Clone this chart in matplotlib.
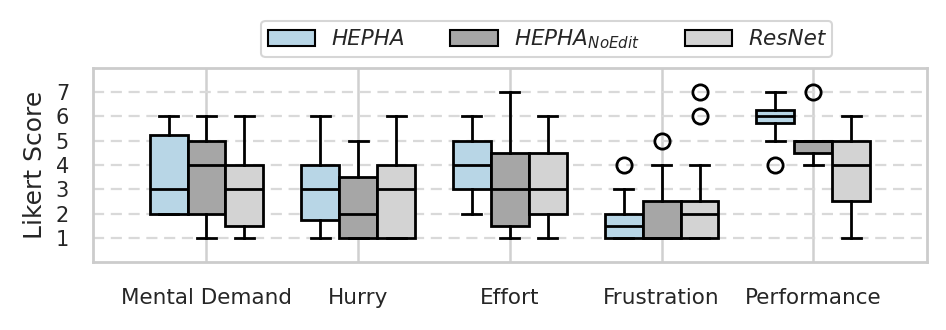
import matplotlib
matplotlib.use("Agg")
import matplotlib.pyplot as plt
from matplotlib.patches import Patch

categories = ["Mental Demand", "Hurry", "Effort", "Frustration", "Performance"]
series = ["HEPHA", "HEPHA_NoEdit", "ResNet"]
legend_labels = [r"HEPHA", r"HEPHA$_{NoEdit}$", r"ResNet"]
colors = ["#b8d6e6", "#a6a6a6", "#d3d3d3"]

# per series: [whislo, q1, med, q3, whishi] for each category
hepha = [[2, 2, 3, 5.25, 6], [1, 1.75, 3, 4, 6], [2, 3, 4, 5, 6], [1, 1, 1.5, 2, 3], [5, 5.75, 6, 6.25, 7]]
noedit = [[1, 2, 4, 5, 6], [1, 1, 2, 3.5, 5], [1, 1.5, 3, 4.5, 7], [1, 1, 1, 2.5, 4], [4, 4.5, 5, 5, 5]]
resnet = [[1, 1.5, 3, 4, 6], [1, 1, 3, 4, 6], [1, 2, 3, 4.5, 6], [1, 1, 2, 2.5, 4], [1, 2.5, 4, 5, 6]]
hepha_fliers = [[], [], [], [4], [4]]
noedit_fliers = [[], [], [], [5], [7]]
resnet_fliers = [[], [], [], [6, 7], []]

all_stats = [hepha, noedit, resnet]
all_fliers = [hepha_fliers, noedit_fliers, resnet_fliers]
yticks = [1, 2, 3, 4, 5, 6, 7]

text_color = "#262626"
fig = plt.figure(figsize=(9.46, 3.3), dpi=100)
ax = fig.add_axes([0.098, 0.206, 0.882, 0.588])

width = 0.25
offsets = [-0.25, 0.0, 0.25]
for si, (stats, fl) in enumerate(zip(all_stats, all_fliers)):
    bstats = []
    for ci, s in enumerate(stats):
        bstats.append(dict(whislo=s[0], q1=s[1], med=s[2], q3=s[3], whishi=s[4], fliers=fl[ci]))
    pos = [ci + offsets[si] for ci in range(len(categories))]
    ax.bxp(bstats, positions=pos, widths=width, patch_artist=True, showfliers=True,
           boxprops=dict(facecolor=colors[si], edgecolor="black", linewidth=2),
           medianprops=dict(color="black", linewidth=2),
           whiskerprops=dict(color="black", linewidth=2),
           capprops=dict(color="black", linewidth=2),
           capwidths=width * 0.5,
           flierprops=dict(marker="o", markerfacecolor="none", markeredgecolor="black",
                           markersize=11, markeredgewidth=2),
           zorder=3)

ax.set_xlim(-0.75, 4.75)
ax.set_ylim(0, 8)
ax.set_yticks(yticks)
ax.set_xticks(range(len(categories)))
ax.set_xticklabels(categories, fontsize=15.5, color=text_color)
ax.tick_params(axis="x", length=0, pad=19)
ax.tick_params(axis="y", length=0, pad=17, labelsize=15, labelcolor=text_color)
ax.set_ylabel("Likert Score", fontsize=18, labelpad=6, color=text_color)

ax.yaxis.grid(True, linestyle=(0, (5, 3)), color="#d9d9d9", linewidth=1.6, zorder=0)
ax.xaxis.grid(True, linestyle="-", color="#d0d0d0", linewidth=1.8, zorder=0)
ax.set_axisbelow(True)
for sp in ax.spines.values():
    sp.set_color("#cccccc")
    sp.set_linewidth(2)

handles = [Patch(facecolor=c, edgecolor="black", linewidth=1.5) for c in colors]
leg = fig.legend(handles, legend_labels, loc="center", bbox_to_anchor=(0.578, 0.882), ncol=3,
                 prop=dict(size=15.5, style="italic"), frameon=True, fancybox=True,
                 edgecolor="#cccccc", handlelength=2.2, handleheight=0.75, handletextpad=0.75,
                 columnspacing=2.1, borderpad=0.3, labelcolor=text_color)
leg.get_frame().set_linewidth(1.5)

fig.savefig("out.png", dpi=100)
